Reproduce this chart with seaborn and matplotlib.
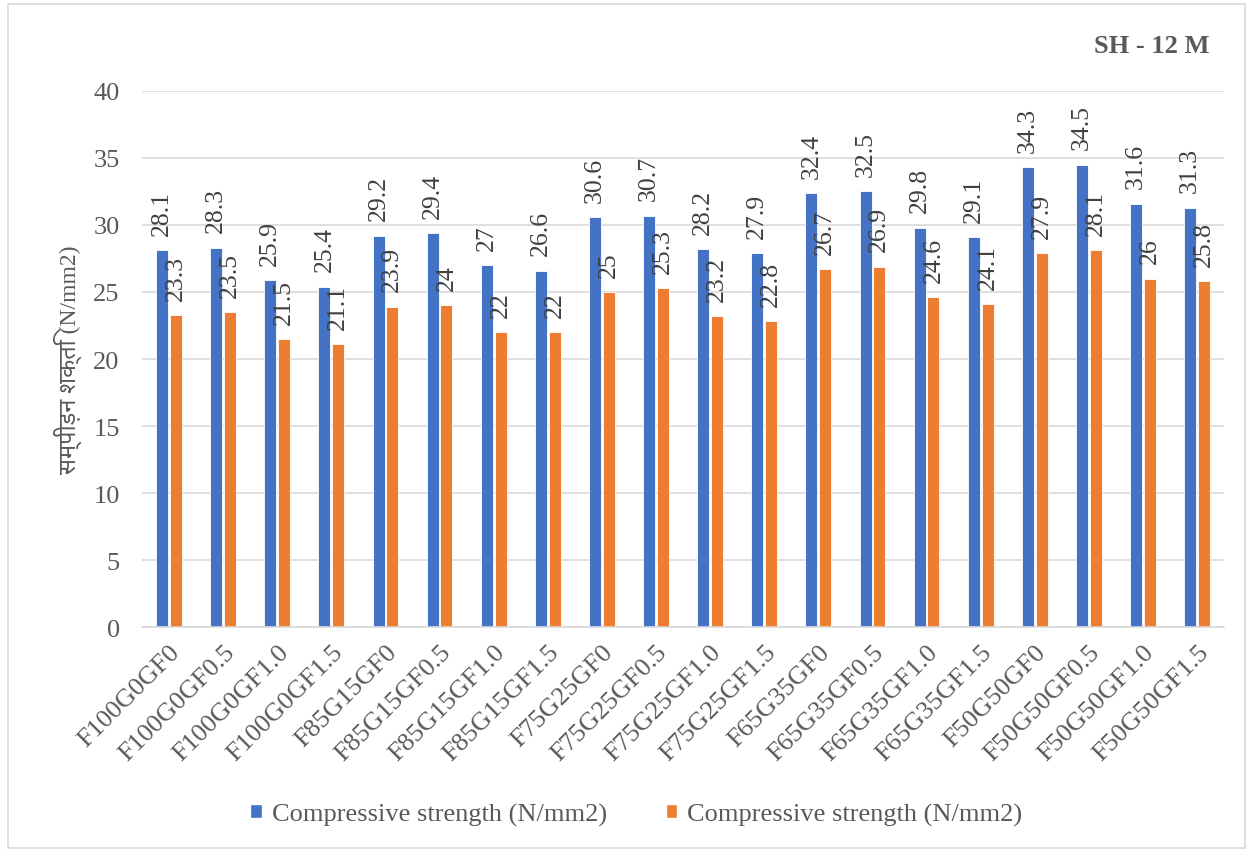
import matplotlib
matplotlib.use("Agg")
import matplotlib.pyplot as plt
import seaborn as sns
import pandas as pd
from matplotlib.patches import Rectangle, Patch

mixes = ["F100G0GF0", "F100G0GF0.5", "F100G0GF1.0", "F100G0GF1.5",
         "F85G15GF0", "F85G15GF0.5", "F85G15GF1.0", "F85G15GF1.5",
         "F75G25GF0", "F75G25GF0.5", "F75G25GF1.0", "F75G25GF1.5",
         "F65G35GF0", "F65G35GF0.5", "F65G35GF1.0", "F65G35GF1.5",
         "F50G50GF0", "F50G50GF0.5", "F50G50GF1.0", "F50G50GF1.5"]
strength_a = [28.1, 28.3, 25.9, 25.4, 29.2, 29.4, 27, 26.6, 30.6, 30.7,
              28.2, 27.9, 32.4, 32.5, 29.8, 29.1, 34.3, 34.5, 31.6, 31.3]
strength_b = [23.3, 23.5, 21.5, 21.1, 23.9, 24, 22, 22, 25, 25.3,
              23.2, 22.8, 26.7, 26.9, 24.6, 24.1, 27.9, 28.1, 26, 25.8]
series_names = ["A", "B"]
legend_text = "Compressive strength (N/mm2)"
y_label = "सम्पीड़न शक्ति (N/mm2)"
title = "SH - 12 M"

df = pd.DataFrame({
    "mix": mixes * 2,
    "value": strength_a + strength_b,
    "series": [series_names[0]] * len(mixes) + [series_names[1]] * len(mixes),
})

sns.set_theme(style="white")
plt.rcParams["font.family"] = ["Liberation Serif", "Noto Sans", "DejaVu Sans"]
txt = "#595959"
colors = ["#4472C4", "#ED7D31"]

fig = plt.figure(figsize=(12.53, 8.54), dpi=100)
ax = fig.add_axes([0.1133, 0.2646, 0.8637, 0.6277])

sns.barplot(data=df, x="mix", y="value", hue="series", palette=colors,
            width=0.51, gap=0.13, ax=ax, legend=False, saturation=1,
            edgecolor="white", linewidth=0.6)

for c in ax.containers:
    ax.bar_label(c, fmt="%g", rotation=90, padding=11, fontsize=18.5, color="#404040")

ax.set_ylim(0, 40)
ax.set_yticks(range(0, 41, 5))
ax.set_xlim(-0.5, len(mixes) - 0.5)
ax.grid(axis="y", color="#d9d9d9", linewidth=1.2)
ax.set_axisbelow(True)
for s in ["top", "right", "left"]:
    ax.spines[s].set_visible(False)
ax.spines["bottom"].set_color("#d9d9d9")
ax.spines["bottom"].set_linewidth(1.2)
ax.tick_params(axis="both", length=0, labelsize=19, colors=txt)
ax.tick_params(axis="y", pad=16)
ax.tick_params(axis="x", pad=10)
plt.setp(ax.get_xticklabels(), rotation=45, ha="right", rotation_mode="anchor")
ax.set_xlabel("")
ax.set_ylabel(y_label, fontsize=17, color=txt, labelpad=8)

fig.text(0.965, 0.945, title, ha="right", va="center", fontsize=19,
         fontweight="bold", color=txt)

handles = [Patch(facecolor=c) for c in colors]
fig.legend(handles, [legend_text, legend_text], loc="center", ncol=2,
           bbox_to_anchor=(0.508, 0.045), frameon=False, fontsize=19,
           labelcolor=txt, handlelength=0.45, handleheight=0.45,
           handletextpad=0.38, columnspacing=2.2)

fig.patches.append(Rectangle((0.006, 0.006), 0.988, 0.988, transform=fig.transFigure,
                             fill=False, edgecolor="#d9d9d9", linewidth=1.2))

fig.savefig("out.png", dpi=100, facecolor="white")
